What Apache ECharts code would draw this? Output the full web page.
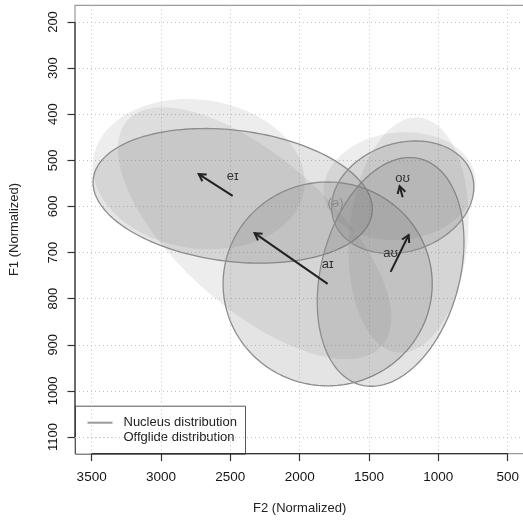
<!DOCTYPE html>
<html>
<head>
<meta charset="utf-8">
<script src="https://cdn.jsdelivr.net/npm/echarts@6/dist/echarts.min.js"></script>
<style>
  html, body { margin: 0; padding: 0; background: #fff; }
  #chart { width: 523px; height: 520px; }
</style>
</head>
<body>
<div id="chart"></div>
<script>
// Diphthong trajectories in the normalized F2 x F1 vowel space.
const f2Ticks = [3500, 3000, 2500, 2000, 1500, 1000, 500];
const f1Ticks = [200, 300, 400, 500, 600, 700, 800, 900, 1000, 1100];
const f2Range = [380, 3620];
const f1Range = [164, 1136];

const vowels = ['eɪ', 'aɪ', 'aʊ', 'oʊ'];

// Nucleus means and distributions (half-width in F2, half-height in F1,
// F1 shift at the low-F2 end of the ellipse).
const nucleusF2 = [2483, 1798, 1344, 1257];
const nucleusF1 = [577, 768, 742, 580];
const nucleusRx = [1007, 754, 529, 513];
const nucleusRy = [146, 221, 248, 122];
const nucleusTilt = [29, 0, -65, -22];

// Offglide means and distributions.
const offglideF2 = [2728, 2325, 1214, 1279];
const offglideF1 = [530, 658, 662, 556];
const offglideRx = [764, 986, 433, 548];
const offglideRy = [163, 273, 255, 117];
const offglideTilt = [17, 183, -33, -9];

// Schwa reference point.
const schwaLabel = '(ə)';
const schwaF2 = 1741;
const schwaF1 = 593;

const legendLabels = ['Nucleus distribution', 'Offglide distribution'];
const xTitle = 'F2 (Normalized)';
const yTitle = 'F1 (Normalized)';

const FONT = '"Liberation Sans", Arial, Helvetica, sans-serif';

function ellipsePoints(cx, cy, rx, ry, tilt) {
  const c = Math.sqrt(Math.max(ry * ry - tilt * tilt, 0));
  const pts = [];
  const n = 200;
  for (let k = 0; k < n; k++) {
    const t = 2 * Math.PI * k / n;
    pts.push([cx - rx * Math.cos(t), cy + tilt * Math.cos(t) + c * Math.sin(t)]);
  }
  return pts;
}

function ellipseSeries(cx, cy, rx, ry, tilt, style) {
  return {
    type: 'custom',
    coordinateSystem: 'cartesian2d',
    silent: true,
    clip: true,
    data: cx.map((v, i) => [v, cy[i]]),
    renderItem: function (params, api) {
      const i = params.dataIndex;
      const pts = ellipsePoints(cx[i], cy[i], rx[i], ry[i], tilt[i]).map(p => api.coord(p));
      return { type: 'polygon', shape: { points: pts }, style: style };
    }
  };
}

const plainNumber = v => String(v);

const chart = echarts.init(document.getElementById('chart'), null, { renderer: 'canvas' });

const option = {
  animation: false,
  backgroundColor: '#fff',
  grid: {
    left: 75, top: 5.4, width: 449.3, height: 448.2,
    show: true, borderColor: '#9a9a9a', borderWidth: 1.2,
    backgroundColor: 'transparent',
    outerBoundsMode: 'none'
  },
  xAxis: {
    type: 'value', inverse: true,
    min: f2Range[0], max: f2Range[1],
    name: xTitle, nameLocation: 'middle', nameGap: 48,
    nameTextStyle: { fontFamily: FONT, fontSize: 13, color: '#222' },
    axisLine: { show: false },
    axisTick: { show: true, customValues: f2Ticks, length: 7.5, lineStyle: { color: '#333', width: 1.2 } },
    axisLabel: { customValues: f2Ticks, formatter: plainNumber, margin: 17, fontFamily: FONT, fontSize: 13.5, color: '#151515' },
    splitLine: { show: true, lineStyle: { color: '#c4c4c4', type: [1, 3], width: 1 } }
  },
  yAxis: {
    type: 'value', inverse: true,
    min: f1Range[0], max: f1Range[1],
    name: yTitle, nameLocation: 'middle', nameGap: 54, nameRotate: 90,
    nameTextStyle: { fontFamily: FONT, fontSize: 13, color: '#222' },
    axisLine: { show: false },
    axisTick: { show: true, customValues: f1Ticks, length: 7.5, lineStyle: { color: '#333', width: 1.2 } },
    axisLabel: { customValues: f1Ticks, formatter: plainNumber, rotate: 90, margin: 15, fontFamily: FONT, fontSize: 13, color: '#151515' },
    splitLine: { show: true, lineStyle: { color: '#c4c4c4', type: [1, 3], width: 1 } }
  },
  series: [
    // offglide distributions
    ellipseSeries(offglideF2, offglideF1, offglideRx, offglideRy, offglideTilt,
      { fill: 'rgba(110,110,110,0.12)', stroke: null }),
    // nucleus distributions
    ellipseSeries(nucleusF2, nucleusF1, nucleusRx, nucleusRy, nucleusTilt,
      { fill: 'rgba(110,110,110,0.19)', stroke: '#8c8c8c', lineWidth: 1.3 }),
    // axis lines running between the outer ticks
    {
      type: 'line', silent: true, clip: false, symbol: 'none',
      data: [[f2Ticks[0], f1Range[1]], [f2Ticks[f2Ticks.length - 1], f1Range[1]]],
      lineStyle: { color: '#333', width: 1.2 }
    },
    {
      type: 'line', silent: true, clip: false, symbol: 'none',
      data: [[f2Range[1], f1Ticks[0]], [f2Range[1], f1Ticks[f1Ticks.length - 1]]],
      lineStyle: { color: '#333', width: 1.2 }
    },
    // nucleus -> offglide arrows with labels at the nucleus
    {
      type: 'custom', coordinateSystem: 'cartesian2d', silent: true,
      data: vowels.map((v, i) => [nucleusF2[i], nucleusF1[i]]),
      renderItem: function (params, api) {
        const i = params.dataIndex;
        const p0 = api.coord([nucleusF2[i], nucleusF1[i]]);
        const p1 = api.coord([offglideF2[i], offglideF1[i]]);
        const ang = Math.atan2(p1[1] - p0[1], p1[0] - p0[0]);
        const hl = 8, ha = Math.PI / 6;
        const h1 = [p1[0] - hl * Math.cos(ang - ha), p1[1] - hl * Math.sin(ang - ha)];
        const h2 = [p1[0] - hl * Math.cos(ang + ha), p1[1] - hl * Math.sin(ang + ha)];
        const st = { stroke: '#222', lineWidth: 2, fill: null };
        return {
          type: 'group',
          children: [
            { type: 'line', shape: { x1: p0[0], y1: p0[1], x2: p1[0], y2: p1[1] }, style: st },
            { type: 'polyline', shape: { points: [h1, p1, h2] }, style: st },
            { type: 'text', x: p0[0], y: p0[1] - 19,
              style: { text: vowels[i], font: '13px ' + FONT, fill: '#333', align: 'center', verticalAlign: 'middle' } }
          ]
        };
      }
    },
    {
      type: 'custom', coordinateSystem: 'cartesian2d', silent: true,
      data: [[schwaF2, schwaF1]],
      renderItem: function (params, api) {
        const p = api.coord([schwaF2, schwaF1]);
        return { type: 'text', x: p[0], y: p[1],
          style: { text: schwaLabel, font: '13px ' + FONT, fill: '#8a8a8a', align: 'center', verticalAlign: 'middle' } };
      }
    }
  ],
  graphic: [{
    type: 'group', left: 75, top: 405.7, z: 100,
    children: [
      { type: 'rect', shape: { x: 0, y: 0, width: 170, height: 48 }, style: { fill: '#fff', stroke: '#555', lineWidth: 1 } },
      { type: 'line', shape: { x1: 12, y1: 16.5, x2: 37, y2: 16.5 }, style: { stroke: '#9a9a9a', lineWidth: 2 } },
      { type: 'line', shape: { x1: 12, y1: 31.5, x2: 37, y2: 31.5 }, style: { stroke: '#9a9a9a', lineWidth: 1, lineDash: [1, 3] } },
      { type: 'text', x: 48, y: 16.5, style: { text: legendLabels[0], font: '13px ' + FONT, fill: '#222', verticalAlign: 'middle' } },
      { type: 'text', x: 48, y: 31.5, style: { text: legendLabels[1], font: '13px ' + FONT, fill: '#222', verticalAlign: 'middle' } }
    ]
  }]
};

chart.setOption(option);
</script>
</body>
</html>
